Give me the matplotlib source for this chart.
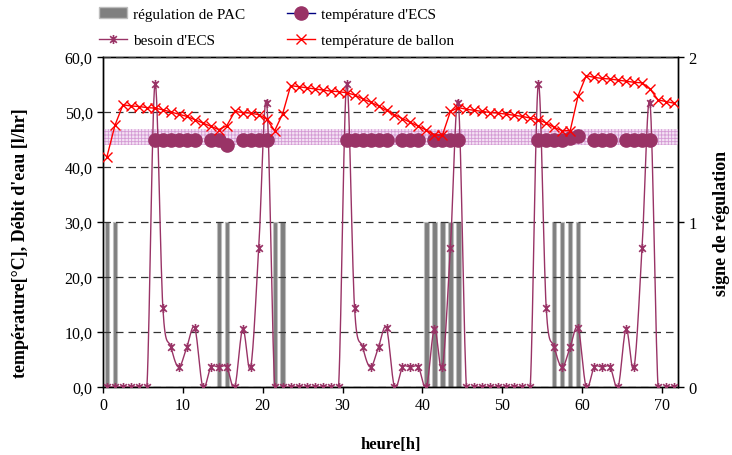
import numpy as np
import matplotlib
matplotlib.use("Agg")
import matplotlib.pyplot as plt
from matplotlib.path import Path
from matplotlib.patches import Patch
from matplotlib.lines import Line2D
from matplotlib.ticker import FuncFormatter, MultipleLocator

nan = np.nan

# heures de simulation (valeurs au milieu de chaque heure)
heures = np.arange(72) + 0.5

# besoin d'ECS [l/hr]
besoin = [0, 0, 0, 0, 0, 0, 55.1, 14.3, 7.3, 3.6, 7.3, 10.7,
          0, 3.6, 3.6, 3.6, 0, 10.6, 3.6, 25.2, 51.6, 0, 0, 0,
          0, 0, 0, 0, 0, 0, 55.1, 14.3, 7.3, 3.6, 7.3, 10.7,
          0, 3.6, 3.6, 3.6, 0, 10.6, 3.6, 25.2, 51.6, 0, 0, 0,
          0, 0, 0, 0, 0, 0, 55.1, 14.3, 7.3, 3.6, 7.3, 10.7,
          0, 3.6, 3.6, 3.6, 0, 10.6, 3.6, 25.2, 51.6, 0, 0, 0]

# température d'ECS [°C] (seulement quand il y a puisage)
temp_ecs = [nan, nan, nan, nan, nan, nan, 45, 45, 45, 45, 45, 45,
            nan, 45, 45, 44.0, nan, 45, 45, 45, 45, nan, nan, nan,
            nan, nan, nan, nan, nan, nan, 45, 45, 45, 45, 45, 45,
            nan, 45, 45, 45, nan, 45, 45, 45, 45, nan, nan, nan,
            nan, nan, nan, nan, nan, nan, 45, 45, 45, 45, 45.2, 45.6,
            nan, 45, 45, 45, nan, 45, 45, 45, 45, nan, nan, nan]

# température de ballon [°C]
temp_ballon = [41.9, 47.6, 51.3, 51.1, 51.0, 50.8, 50.7, 50.4, 50.0, 49.6, 49.2, 48.6,
               48.0, 47.4, 46.8, 47.5, 50.1, 49.9, 49.8, 49.5, 48.7, 46.6, 49.7, 54.8,
               54.6, 54.4, 54.2, 54.0, 53.8, 53.7, 53.5, 53.1, 52.4, 51.8, 51.1, 50.3,
               49.5, 48.8, 48.1, 47.4, 46.7, 45.8, 45.8, 50.1, 50.8, 50.5, 50.3, 50.1,
               49.9, 49.8, 49.6, 49.4, 49.2, 48.9, 48.6, 48.0, 47.2, 46.6, 46.6, 53.0,
               56.6, 56.3, 56.1, 56.0, 55.8, 55.6, 55.4, 55.3, 54.2, 52.2, 51.9, 51.6]

# régulation de PAC (0 = arrêt, 1 = marche)
regulation = [1, 1, 0, 0, 0, 0, 0, 0, 0, 0, 0, 0,
              0, 0, 1, 1, 0, 0, 0, 0, 0, 1, 1, 0,
              0, 0, 0, 0, 0, 0, 0, 0, 0, 0, 0, 0,
              0, 0, 0, 0, 1, 1, 1, 1, 1, 0, 0, 0,
              0, 0, 0, 0, 0, 0, 0, 0, 1, 1, 1, 1,
              0, 0, 0, 0, 0, 0, 0, 0, 0, 0, 0, 0]

# plage de consigne ECS
plage_consigne = (44.0, 47.0)


def lisser(x, y, n=16):
    """Courbe lissée type Excel (Bezier / Catmull-Rom)"""
    P = np.column_stack([x, y]).astype(float)
    P = np.vstack([P[0], P, P[-1]])
    xs, ys = [], []
    s = np.linspace(0, 1, n)
    for i in range(1, len(P) - 2):
        p0, p1, p2, p3 = P[i - 1], P[i], P[i + 1], P[i + 2]
        c1 = p1 + (p2 - p0) / 6.0
        c2 = p2 - (p3 - p1) / 6.0
        b = ((1 - s) ** 3)[:, None] * p1 + (3 * (1 - s) ** 2 * s)[:, None] * c1 \
            + (3 * (1 - s) * s ** 2)[:, None] * c2 + (s ** 3)[:, None] * p2
        xs.append(b[:, 0])
        ys.append(b[:, 1])
    return np.concatenate(xs), np.concatenate(ys)


plt.rcParams['font.family'] = ['Liberation Serif', 'DejaVu Serif']
plt.rcParams['hatch.linewidth'] = 0.6

prune = '#993366'
etoile = Path([(-1, -1), (1, 1), (-1, 1), (1, -1), (0, -1.35), (0, 1.35)],
              [Path.MOVETO, Path.LINETO, Path.MOVETO, Path.LINETO, Path.MOVETO, Path.LINETO])

fig = plt.figure(figsize=(7.32, 4.56), dpi=100)
ax1 = fig.add_axes([103 / 732, 1 - 388 / 456, 575 / 732, 330 / 456])
ax2 = ax1.twinx()
ax1.set_zorder(ax2.get_zorder() + 1)
ax1.patch.set_visible(False)

# barres de régulation (axe secondaire)
reg = np.array(regulation)
mask = reg > 0
ax2.bar(heures[mask], reg[mask], width=0.55, color='#7f7f7f',
        edgecolor='#bdbdbd', linewidth=0.8, zorder=1)

# plage de consigne
ax1.axhspan(plage_consigne[0], plage_consigne[1], facecolor='#f4e2f4',
            edgecolor='#d49ad4', hatch='+++++', linewidth=0, zorder=0.5)

# besoin d'ECS, courbe lissée
xl, yl = lisser(heures, besoin)
ax1.plot(xl, yl, color=prune, linewidth=1.0, zorder=3)
ax1.plot(heures, besoin, linestyle='none', marker=etoile, markersize=6.5,
         markeredgewidth=1.2, markeredgecolor=prune, markerfacecolor='none', zorder=4)

# température d'ECS
ax1.plot(heures, temp_ecs, color='#000080', linewidth=1.0, marker='o',
         markersize=9.5, markerfacecolor=prune, markeredgecolor=prune, zorder=5)

# température de ballon
ax1.plot(heures, temp_ballon, color='red', linewidth=1.0, marker='x',
         markersize=6.5, markeredgewidth=1.0, zorder=6)

# axes
ax1.set_xlim(0, 72)
ax1.set_ylim(0, 60)
ax2.set_ylim(0, 2)
ax1.xaxis.set_major_locator(MultipleLocator(10))
ax1.yaxis.set_major_locator(MultipleLocator(10))
ax2.yaxis.set_major_locator(MultipleLocator(1))
ax1.yaxis.set_major_formatter(FuncFormatter(lambda v, p: f"{v:.1f}".replace('.', ',')))
ax1.yaxis.grid(True, linestyle=(0, (6, 4)), color='#333333', linewidth=0.9)
ax1.set_axisbelow(False)

for ax in (ax1, ax2):
    for sp in ax.spines.values():
        sp.set_linewidth(1.0)
        sp.set_color('black')
ax1.tick_params(axis='both', direction='out', length=4, labelsize=11.5, width=1)
ax2.tick_params(axis='y', direction='out', length=4, labelsize=12, width=1)

ax1.set_xlabel("heure[h]", fontsize=12, fontweight='bold', labelpad=16)
ax1.set_ylabel("température[°C], Débit d'eau [l/hr]", fontsize=13, fontweight='bold')
ax1.yaxis.set_label_coords(-0.128, 0.44)
ax2.set_ylabel("signe de régulation", fontsize=13, fontweight='bold', labelpad=12)

# légende
handles = [
    Patch(facecolor='#7f7f7f', edgecolor='#bdbdbd'),
    Line2D([], [], color=prune, linewidth=1.0, marker=etoile, markersize=6.5,
           markeredgewidth=1.2, markerfacecolor='none'),
    Line2D([], [], color='#000080', linewidth=1.0, marker='o', markersize=9.5,
           markerfacecolor=prune, markeredgecolor=prune),
    Line2D([], [], color='red', linewidth=1.0, marker='x', markersize=6.5),
]
labels = ["régulation de PAC", "besoin d'ECS", "température d'ECS", "température de ballon"]
fig.legend(handles, labels, ncol=2, loc='upper left', bbox_to_anchor=(0.127, 0.995),
           frameon=False, fontsize=11, handlelength=1.85, handletextpad=0.4,
           labelspacing=0.8, columnspacing=2.7, borderaxespad=0)

fig.savefig("out.png", dpi=100)
